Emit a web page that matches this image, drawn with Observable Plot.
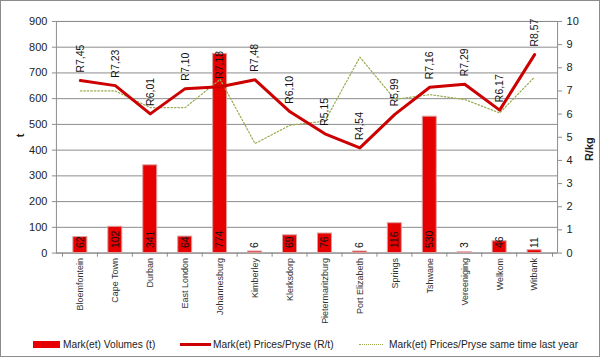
<!DOCTYPE html>
<html><head><meta charset="utf-8">
<script src="https://cdn.jsdelivr.net/npm/d3@7"></script>
<script src="https://cdn.jsdelivr.net/npm/@observablehq/plot@0.6"></script>
<style>
body{margin:0;font-family:"Liberation Sans",Arial,sans-serif;background:#fff}
#frame{position:relative;width:600px;height:357px;box-sizing:border-box;border:1px solid #8c8c8c;overflow:hidden;background:#fff}
#chart{position:absolute;left:-1px;top:-1px}
.leg{position:absolute;top:337px;font-size:10.2px;color:#222;white-space:nowrap;line-height:14px}
.sw{position:absolute}
</style></head>
<body>
<div id="frame">
<div id="chart"></div>
<div class="sw" style="left:32px;top:340px;width:27px;height:7px;background:#e60000;border:0"></div>
<div class="leg" style="left:62px">Mark(et) Volumes (t)</div>
<div class="sw" style="left:179px;top:342px;width:31px;height:3px;background:#cc0000"></div>
<div class="leg" style="left:212px">Mark(et) Prices/Pryse (R/t)</div>
<div class="sw" style="left:358px;top:343px;width:24px;height:0;border-top:1px dotted #9aab50"></div>
<div class="leg" style="left:388px">Mark(et) Prices/Pryse same time last year</div>
</div>
<script>
const categories = ["Bloemfontein","Cape Town","Durban","East London","Johannesburg","Kimberley","Klerksdorp","Pietermaritzburg","Port Elizabeth","Springs","Tshwane","Vereeniging","Welkom","Witbank"];
const volumes = [62, 102, 341, 64, 774, 6, 69, 76, 6, 116, 530, 3, 46, 11];
const prices = [7.45, 7.23, 6.01, 7.10, 7.18, 7.48, 6.10, 5.15, 4.54, 5.99, 7.16, 7.29, 6.17, 8.57];
const lastYear = [7.0, 7.0, 6.28, 6.28, 7.5, 4.73, 5.52, 5.7, 8.46, 6.64, 6.84, 6.63, 6.05, 7.6];
const leftTicks = [0,100,200,300,400,500,600,700,800,900];
const rightTicks = [0,1,2,3,4,5,6,7,8,9,10];

const K = 90; // R/kg -> t axis scale factor
const data = categories.map((c, i) => ({
  c, v: volumes[i], p: prices[i], l: lastYear[i],
  lab: "R" + prices[i].toFixed(2).replace(".", ",")
}));
const step = (600 - 56 - 42) / categories.length;

const chart = Plot.plot({
  width: 600, height: 325,
  marginTop: 21, marginBottom: 72, marginLeft: 56, marginRight: 42,
  style: {fontFamily: "'Liberation Sans', Arial, sans-serif", fontSize: "11px", color: "#222", background: "transparent"},
  x: {type: "band", domain: categories, paddingInner: 0.6, paddingOuter: 0.3},
  y: {domain: [0, 900]},
  marks: [
    Plot.gridY(leftTicks, {stroke: "#8c8c8c", strokeOpacity: 1}),
    Plot.frame({stroke: "#8c8c8c"}),
    Plot.ruleX(categories, {x: d => d, y1: 0, y2: -16, dx: -step / 2, stroke: "#8c8c8c"}),
    Plot.ruleX(categories.slice(-1), {x: d => d, y1: 0, y2: -16, dx: step / 2, stroke: "#8c8c8c"}),
    Plot.barY(data, {x: "c", y: "v", fill: "#e60000", stroke: "#d9a0a0", strokeWidth: 1}),
    Plot.lineY(data, {x: "c", y: d => d.l * K, stroke: "#9aab50", strokeWidth: 1.2, strokeDasharray: "1.5,2"}),
    Plot.lineY(data, {x: "c", y: d => d.p * K, stroke: "#cc0000", strokeWidth: 3}),
    Plot.text(data, {x: "c", y: 0, text: d => String(d.v), rotate: -90, textAnchor: "start", dy: -5, fontSize: 10.5, fill: "#111"}),
    Plot.text(data, {x: "c", y: d => d.p * K, text: "lab", rotate: -90, textAnchor: "start", dy: -8, fontSize: 10.5, fill: "#111"}),
    Plot.axisY(leftTicks, {anchor: "left", tickSize: 4, tickPadding: 5, label: null, stroke: "#8c8c8c", fontSize: 11}),
    Plot.axisY(rightTicks.map(d => d * K), {anchor: "right", tickSize: 4, tickPadding: 5, label: null, tickFormat: d => d / K, stroke: "#8c8c8c", fontSize: 11}),
    Plot.axisX({tickSize: 0, tickPadding: 5, tickRotate: -90, label: null, fontSize: 9, fill: "#333"}),
    Plot.text(["t"], {frameAnchor: "left", dx: -36, rotate: -90, fontWeight: "bold", fontSize: 11}),
    Plot.text(["R/kg"], {frameAnchor: "right", dx: 32, rotate: -90, fontWeight: "bold", fontSize: 11})
  ]
});
document.getElementById("chart").appendChild(chart);
</script>
</body></html>
